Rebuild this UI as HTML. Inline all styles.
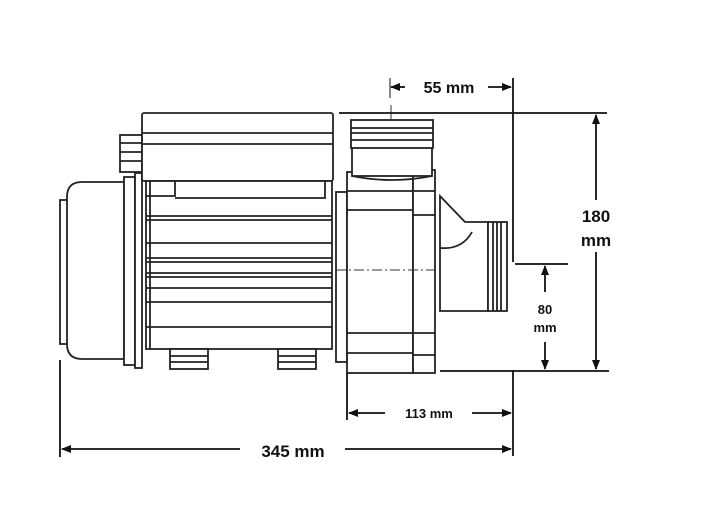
<!DOCTYPE html>
<html><head><style>
html,body{margin:0;padding:0;background:#fff;}
svg{display:block;}
text{font-family:"Liberation Sans",Arial,sans-serif;font-weight:bold;fill:#111;}
</style></head><body>
<svg width="710" height="511" viewBox="0 0 710 511" xmlns="http://www.w3.org/2000/svg">
<defs>
<marker id="ar" markerWidth="10" markerHeight="8" refX="9" refY="4" orient="auto" markerUnits="userSpaceOnUse">
<path d="M0,0 L10,4 L0,8 z" fill="#111"/>
</marker>
</defs>
<g fill="#fff" stroke="#222" stroke-width="1.8">
<rect x="60" y="200" width="8" height="144"/>
<path d="M124,182 L82,182 Q67,182 67,197 L67,344 Q67,359 82,359 L124,359 Z"/>
<rect x="124" y="177" width="11" height="188"/>
<rect x="135" y="173" width="7" height="195"/>
<rect x="120" y="135" width="22" height="37"/>
<line x1="120" y1="143" x2="142" y2="143"/><line x1="120" y1="152" x2="142" y2="152"/><line x1="120" y1="161" x2="142" y2="161"/>
<rect x="142" y="113" width="191" height="68" rx="2"/>
<line x1="142" y1="133" x2="333" y2="133"/><line x1="142" y1="144" x2="333" y2="144"/>
<rect x="146" y="181" width="186" height="168"/>
<path d="M146,196 L175,196 L175,181 M175,198 L325,198 L325,181" fill="none"/>
<line x1="146" y1="216" x2="332" y2="216"/><line x1="146" y1="220" x2="332" y2="220"/>
<line x1="146" y1="243" x2="332" y2="243"/>
<line x1="146" y1="258" x2="332" y2="258"/><line x1="146" y1="262" x2="332" y2="262"/>
<line x1="146" y1="273" x2="332" y2="273"/><line x1="146" y1="277" x2="332" y2="277"/>
<line x1="146" y1="288" x2="332" y2="288"/>
<line x1="146" y1="302" x2="332" y2="302"/>
<line x1="146" y1="327" x2="332" y2="327"/>
<line x1="150" y1="181" x2="150" y2="349"/>
<rect x="170" y="349" width="38" height="20"/><line x1="170" y1="356" x2="208" y2="356"/><line x1="170" y1="362" x2="208" y2="362"/>
<rect x="278" y="349" width="38" height="20"/><line x1="278" y1="356" x2="316" y2="356"/><line x1="278" y1="362" x2="316" y2="362"/>
<rect x="336" y="192" width="11" height="170"/>
<rect x="347" y="172" width="66" height="201"/>
<rect x="413" y="170" width="22" height="203"/>
<line x1="347" y1="191" x2="413" y2="191"/><line x1="347" y1="210" x2="413" y2="210"/>
<line x1="347" y1="333" x2="413" y2="333"/><line x1="347" y1="353" x2="413" y2="353"/>
<line x1="413" y1="191" x2="435" y2="191"/><line x1="413" y1="215" x2="435" y2="215"/>
<line x1="413" y1="333" x2="435" y2="333"/><line x1="413" y1="355" x2="435" y2="355"/>
<rect x="352" y="140" width="80" height="36"/>
<rect x="351" y="120" width="82" height="28"/>
<line x1="351" y1="128" x2="433" y2="128"/><line x1="351" y1="133" x2="433" y2="133"/><line x1="351" y1="140" x2="433" y2="140"/>
<path d="M352,176 Q392,184 432,176" fill="none"/>
<path d="M440,196 L465,222 L488,222 L488,311 L440,311 Z"/>
<path d="M440,248 Q462,250 472,232" fill="none"/>
<rect x="488" y="222" width="19" height="89"/>
<line x1="493" y1="222" x2="493" y2="311"/><line x1="497" y1="222" x2="497" y2="311"/><line x1="501" y1="222" x2="501" y2="311"/>
</g>
<line x1="336" y1="270" x2="437" y2="270" stroke="#333" stroke-width="1" stroke-dasharray="10,3,2,3"/>
<line x1="391" y1="105" x2="391" y2="120" stroke="#333" stroke-width="1"/>
<g stroke="#111" stroke-width="1.8" fill="none">
<line x1="513" y1="78" x2="513" y2="262"/>
<line x1="513" y1="370" x2="513" y2="456"/>
<line x1="405" y1="87" x2="391" y2="87" marker-end="url(#ar)"/>
<line x1="488" y1="87" x2="511" y2="87" marker-end="url(#ar)"/>
<line x1="390" y1="78" x2="390" y2="98" stroke-width="1"/>
<line x1="339" y1="113" x2="607" y2="113"/>
<line x1="440" y1="371" x2="609" y2="371"/>
<line x1="515" y1="264" x2="568" y2="264"/>
<line x1="596" y1="200" x2="596" y2="115" marker-end="url(#ar)"/>
<line x1="596" y1="252" x2="596" y2="369" marker-end="url(#ar)"/>
<line x1="545" y1="292" x2="545" y2="266" marker-end="url(#ar)"/>
<line x1="545" y1="342" x2="545" y2="369" marker-end="url(#ar)"/>
<line x1="347" y1="373" x2="347" y2="420"/>
<line x1="385" y1="413" x2="349" y2="413" marker-end="url(#ar)"/>
<line x1="472" y1="413" x2="511" y2="413" marker-end="url(#ar)"/>
<line x1="60" y1="360" x2="60" y2="457"/>
<line x1="240" y1="449" x2="62" y2="449" marker-end="url(#ar)"/>
<line x1="345" y1="449" x2="511" y2="449" marker-end="url(#ar)"/>
</g>
<text x="449" y="93" font-size="16" text-anchor="middle">55 mm</text>
<text x="596" y="222" font-size="17" text-anchor="middle">180</text>
<text x="596" y="246" font-size="17" text-anchor="middle">mm</text>
<text x="545" y="314" font-size="13" text-anchor="middle">80</text>
<text x="545" y="332" font-size="13" text-anchor="middle">mm</text>
<text x="429" y="418" font-size="13" text-anchor="middle">113 mm</text>
<text x="293" y="457" font-size="17" text-anchor="middle">345 mm</text>
</svg>
</body></html>
